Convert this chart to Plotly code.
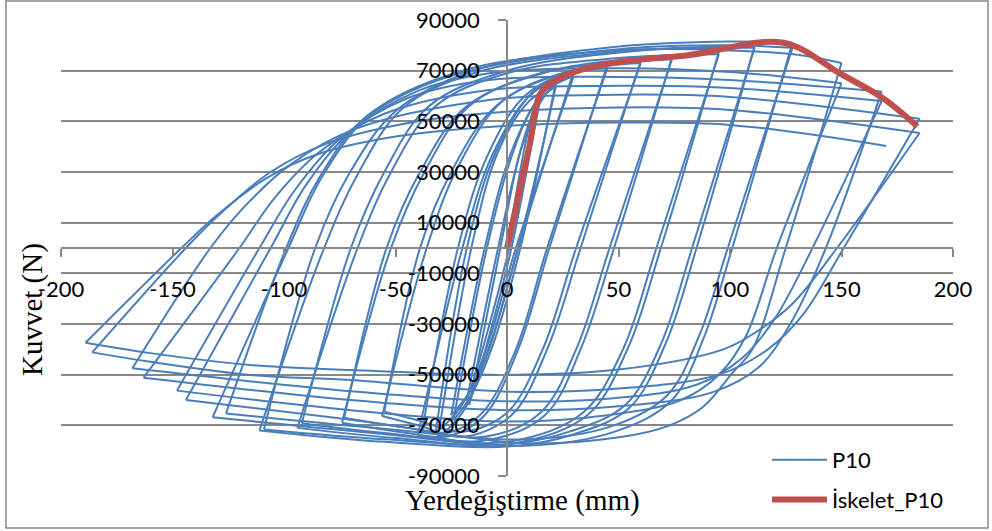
import plotly.graph_objects as go

# ---------------------------------------------------------------
# Cyclic test record of specimen P10.
# Every half-cycle is a list of (displacement [mm], force [N]) vertices
# from one load reversal to the next; "push" runs towards +, "pull" towards -.
# ---------------------------------------------------------------
push_01a = [(0, 0), (8, 40000), (12, 55000), (15, 61000)]
pull_01a = [(15, 61000), (2, 0), (-9, -38000), (-14, -53000), (-17, -62000)]
push_01b = [(-17, -62000), (-3, 0), (5, 35000), (11, 52000), (15, 59000)]
pull_01b = [(15, 59000), (1, 0), (-10, -37000), (-15, -52000), (-18, -60000)]
push_02a = [(-18, -60000), (-4, 0), (6, 38000), (14, 56000), (22, 66000)]
pull_02a = [(22, 66000), (6, 0), (-7, -40000), (-16, -58000), (-24, -68000)]
push_02b = [(-24, -68000), (-9, 0), (2, 36000), (12, 56000), (22, 64000)]
pull_02b = [(22, 64000), (5, 0), (-8, -39000), (-17, -57000), (-25, -66000)]
push_03a = [(-25, -66000), (-10, 0), (2, 38000), (15, 60000), (30, 70000)]
pull_03a = [(30, 70000), (5, 0), (-8, -40000), (-20, -65000), (-31, -75000)]
push_03b = [(-31, -75000), (-16, 0), (-4, 38000), (10, 58000), (30, 68000)]
pull_03b = [(30, 68000), (4, 0), (-9, -39000), (-21, -63000), (-32, -73000)]
push_04a = [(-32, -73000), (-18, 0), (-5, 38000), (12, 62000), (30, 70000), (45, 72500)]
pull_04a = [(45, 72500), (19, 0), (5, -40000), (-10, -66000), (-25, -74000), (-40, -74000)]
push_04b = [(-40, -74000), (-20, 0), (-7, 36000), (10, 60000), (28, 69000), (45, 71000)]
pull_04b = [(45, 71000), (18, 0), (4, -40000), (-11, -65000), (-25, -72500), (-38, -72000)]
push_05a = [(-38, -72000), (-22, 0), (-9, 36000), (8, 60000), (30, 70000), (60, 74000)]
pull_05a = [(60, 74000), (33, 0), (18, -40000), (2, -66000), (-20, -74500), (-40, -70000), (-56, -66300)]
push_05b = [(-56, -66300), (-36, 0), (-22, 32000), (-2, 58000), (25, 69000), (60, 73000)]
pull_05b = [(60, 73000), (31, 0), (16, -40000), (0, -65000), (-20, -72500), (-40, -68000), (-55, -64600)]
push_06a = [(-55, -64600), (-39, 0), (-25, 30000), (-5, 56000), (25, 69000), (74, 75500)]
pull_06a = [(74, 75500), (48, 0), (33, -40000), (17, -66000), (-10, -76000), (-45, -73000), (-74, -69000)]
push_06b = [(-74, -69000), (-52, 0), (-37, 30000), (-17, 56000), (15, 69000), (74, 74500)]
pull_06b = [(74, 74500), (46, 0), (31, -40000), (15, -65000), (-10, -74500), (-45, -71000), (-73, -67000)]
push_07a = [(-73, -67000), (-54, 0), (-39, 30000), (-18, 56000), (20, 70000), (60, 75000), (95, 77500)]
pull_07a = [(95, 77500), (69, 0), (54, -40000), (36, -66000), (0, -77500), (-50, -75000), (-94, -71000)]
push_07b = [(-94, -71000), (-67, 0), (-52, 30000), (-32, 56000), (0, 69000), (50, 75000), (95, 76500)]
pull_07b = [(95, 76500), (67, 0), (52, -40000), (34, -65000), (0, -76500), (-50, -73500), (-92, -69200)]
push_08a = [(-92, -69200), (-70, 0), (-55, 30000), (-35, 56000), (0, 70000), (60, 78000), (111, 79500)]
pull_08a = [(111, 79500), (85, 0), (71, -38000), (55, -63000), (30, -73500), (0, -78400), (-55, -76500), (-111, -72000)]
push_08b = [(-111, -72000), (-82, 0), (-67, 29000), (-47, 55000), (-15, 69000), (50, 77500), (111, 79000)]
pull_08b = [(111, 79000), (83, 0), (69, -38000), (53, -62000), (28, -72500), (0, -77500), (-55, -75500), (-109, -71600)]
push_09a = [(-109, -71600), (-86, 0), (-71, 29000), (-50, 54000), (-15, 70000), (50, 79500), (100, 81500), (128, 81000)]
pull_09a = [(128, 81000), (101, 0), (88, -36000), (74, -60000), (50, -72000), (10, -78000), (-60, -73000), (-132, -66800)]
push_09b = [(-132, -66800), (-98, 0), (-83, 28000), (-62, 52000), (-25, 68000), (50, 78500), (100, 80000), (128, 79000)]
pull_09b = [(128, 79000), (99, 0), (86, -35000), (72, -58000), (48, -70000), (10, -75500), (-60, -71000), (-126, -65300)]
push_10a = [(-126, -65300), (-99, 0), (-84, 28000), (-63, 52000), (-20, 70000), (50, 78000), (100, 78000), (131, 76200), (150, 73000)]
pull_10a = [(150, 73000), (125, 0), (110, -40000), (101, -49400), (88, -62700), (73, -70000), (51, -74600), (6, -77000), (-60, -69000), (-144, -60000)]
push_10b = [(-144, -60000), (-106, 0), (-90, 25000), (-70, 46000), (-40, 62000), (-8, 69000), (50, 71000), (100, 69500), (150, 65000)]
pull_10b = [(150, 65000), (121, 0), (107, -35000), (95, -50000), (78, -60000), (45, -66000), (0, -68500), (-70, -64000), (-148, -56300)]
push_11a = [(-148, -56300), (-111, 0), (-95, 23000), (-75, 43000), (-45, 59000), (-8, 66300), (50, 67500), (100, 66300), (168, 61800)]
pull_11a = [(168, 61800), (143, 0), (127, -30000), (113, -47000), (92, -57000), (50, -62500), (0, -64000), (-70, -60000), (-163, -51200)]
push_11b = [(-163, -51200), (-120, 0), (-104, 20000), (-84, 38000), (-55, 53000), (-8, 62400), (50, 64000), (100, 63200), (168, 58000)]
pull_11b = [(168, 58000), (137, 0), (120, -28000), (106, -43000), (85, -54000), (45, -59500), (0, -60500), (-70, -56500), (-168, -47500)]
push_12a = [(-168, -47500), (-133, 0), (-117, 17000), (-97, 33000), (-68, 47000), (-8, 58400), (50, 60500), (100, 59600), (185, 51000)]
pull_12a = [(185, 51000), (151, 0), (133, -26000), (117, -40000), (95, -50000), (50, -55500), (0, -56700), (-70, -52100), (-115, -50100), (-160, -44900), (-186, -41200)]
push_12b = [(-186, -41200), (-144, 0), (-128, 14000), (-106, 30000), (-80, 41500), (-40, 50000), (-8, 53300), (50, 55500), (100, 54500), (185, 45400)]
pull_12b = [(185, 45400), (148, 0), (128, -22000), (112, -33000), (97, -40000), (50, -48000), (0, -50100), (-70, -48200), (-115, -46200), (-160, -41500), (-189, -37400)]
push_final = [(-189, -37400), (-146, 0), (-130, 13000), (-108, 27500), (-85, 37000), (-50, 44000), (-8, 47800), (50, 49500), (100, 48600), (170, 40300)]

half_cycles = [
    push_01a, pull_01a, push_01b, pull_01b,
    push_02a, pull_02a, push_02b, pull_02b,
    push_03a, pull_03a, push_03b, pull_03b,
    push_04a, pull_04a, push_04b, pull_04b,
    push_05a, pull_05a, push_05b, pull_05b,
    push_06a, pull_06a, push_06b, pull_06b,
    push_07a, pull_07a, push_07b, pull_07b,
    push_08a, pull_08a, push_08b, pull_08b,
    push_09a, pull_09a, push_09b, pull_09b,
    push_10a, pull_10a, push_10b, pull_10b,
    push_11a, pull_11a, push_11b, pull_11b,
    push_12a, pull_12a, push_12b, pull_12b,
    push_final,
]

# Backbone (skeleton) curve through the positive peaks
skeleton_disp = [0, 10, 15, 22, 37, 52, 82, 124, 150, 168, 184]
skeleton_force = [0, 40000, 61000, 66300, 71300, 73600, 76200, 81000, 68500, 59500, 48000]

x_ticks = [-200, -150, -100, -50, 0, 50, 100, 150, 200]
y_ticks = [-90000, -70000, -50000, -30000, -10000, 10000, 30000, 50000, 70000, 90000]

# Join the half-cycles into one series; a gap between them keeps the
# reversal points sharp while each branch is smoothed on its own.
loop_x, loop_y = [], []
for branch in half_cycles:
    loop_x += [p[0] for p in branch] + [None]
    loop_y += [p[1] for p in branch] + [None]

GRID = "#878787"
SANS = "Lato, Carlito, 'Open Sans', sans-serif"
SERIF = "'Liberation Serif', 'Times New Roman', serif"

fig = go.Figure()
fig.add_trace(go.Scatter(
    x=loop_x, y=loop_y, mode="lines", name="P10", connectgaps=False,
    line=dict(color="#4A7EBB", width=2, shape="spline", smoothing=1),
    legendgroup="loops",
))
fig.add_trace(go.Scatter(
    x=skeleton_disp, y=skeleton_force, mode="lines", name="İskelet_P10",
    line=dict(color="#C0504D", width=6, shape="spline", smoothing=1),
    legendgroup="skeleton",
))

fig.update_layout(
    width=992, height=531,
    margin=dict(l=61, r=39, t=20, b=55, autoexpand=False),
    paper_bgcolor="white", plot_bgcolor="white",
    font=dict(family=SANS, size=22, color="black"),
    xaxis=dict(
        range=[-200, 200], tickvals=x_ticks, ticktext=[str(v) for v in x_ticks],
        showgrid=False, zeroline=False,
        showline=True, linecolor=GRID, linewidth=1.5,
        ticks="outside", ticklen=8, tickwidth=1.5, tickcolor=GRID,
        anchor="free", position=0.5, ticklabelstandoff=14,
        layer="above traces",
    ),
    yaxis=dict(
        range=[-90000, 90000], tickvals=y_ticks, ticktext=[str(v) for v in y_ticks],
        showgrid=True, gridcolor=GRID, gridwidth=1.5, zeroline=False,
        showline=True, linecolor=GRID, linewidth=1.5,
        ticks="outside", ticklen=8, tickwidth=1.5, tickcolor=GRID,
        anchor="free", position=0.5, ticklabelstandoff=14,
        layer="above traces",
    ),
    legend=dict(
        x=0.7915, y=0.081, xanchor="left", yanchor="top",
        bgcolor="rgba(0,0,0,0)", font=dict(family=SANS, size=22),
        tracegroupgap=8, itemwidth=55,
    ),
    showlegend=True,
    shapes=[dict(
        type="rect", xref="paper", yref="paper",
        x0=-0.0617, x1=1.0392, y0=-0.114, y1=1.0417,
        line=dict(color=GRID, width=1.5), layer="below",
    )],
    annotations=[
        dict(text="Kuvvet (N)", xref="paper", yref="paper", x=-0.0325, y=0.364,
             xanchor="center", yanchor="middle",
             textangle=-90, showarrow=False, font=dict(family=SERIF, size=29)),
        dict(text="Yerdeğiştirme (mm)", xref="paper", yref="paper", x=0.517, y=-0.054,
             xanchor="center", yanchor="middle",
             showarrow=False, font=dict(family=SERIF, size=29)),
    ],
)

fig.write_html("out.html")
